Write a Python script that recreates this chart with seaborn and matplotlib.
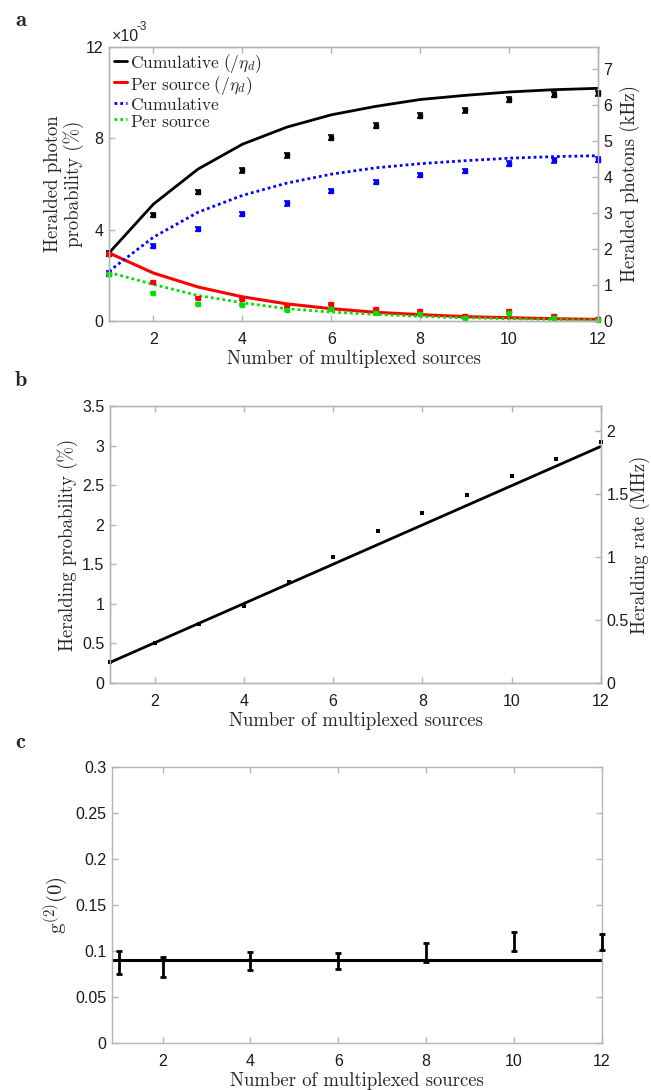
import numpy as np
import pandas as pd
import seaborn as sns
import matplotlib.pyplot as plt
from matplotlib.ticker import MultipleLocator, FuncFormatter

# ---- data ----
n_src = [1, 2, 3, 4, 5, 6, 7, 8, 9, 10, 11, 12]

# panel a, left axis in units of 1e-3 %
cum_eta_fit = [2.98, 5.12, 6.65, 7.74, 8.49, 9.03, 9.40, 9.70, 9.88, 10.03, 10.13, 10.19]
cum_eta_meas = [2.95, 4.64, 5.65, 6.60, 7.26, 8.03, 8.55, 9.00, 9.23, 9.70, 9.91, 9.97]
per_eta_fit = [2.98, 2.10, 1.49, 1.06, 0.75, 0.54, 0.38, 0.28, 0.19, 0.145, 0.10, 0.07]
per_eta_meas = [2.95, 1.71, 0.99, 0.96, 0.65, 0.75, 0.51, 0.42, 0.22, 0.44, 0.22, 0.07]
cum_fit = [2.18, 3.67, 4.76, 5.50, 6.04, 6.43, 6.71, 6.89, 7.02, 7.13, 7.20, 7.24]
cum_meas = [2.08, 3.29, 4.02, 4.69, 5.15, 5.70, 6.08, 6.39, 6.56, 6.89, 7.04, 7.07]
per_fit = [2.13, 1.60, 1.12, 0.80, 0.54, 0.39, 0.29, 0.20, 0.145, 0.10, 0.07, 0.04]
per_meas = [2.06, 1.23, 0.73, 0.69, 0.48, 0.54, 0.36, 0.29, 0.145, 0.33, 0.145, 0.04]
err_cum = 0.1
err_per = 0.04

# panel b
herald_meas = [0.266, 0.50, 0.74, 0.97, 1.28, 1.59, 1.92, 2.15, 2.38, 2.61, 2.83, 3.05]
herald_fit_x = [1, 12]
herald_fit_y = [0.26, 2.99]

# panel c
g2_n = [1, 2, 4, 6, 8, 10, 12]
g2_val = [0.088, 0.083, 0.089, 0.089, 0.0985, 0.1105, 0.110]
g2_err = [0.0125, 0.011, 0.010, 0.009, 0.010, 0.010, 0.009]
g2_fit_x = [0.85, 12]
g2_fit_y = [0.09, 0.09]

sns.set_style('ticks')
plt.rcParams['font.family'] = ['Liberation Sans', 'DejaVu Sans']
plt.rcParams['mathtext.fontset'] = 'cm'

SPINE = '#b4b4b4'
TICKFS = 11.5
LABFS = 13.5
serif = 'cmr10'
GREEN = '#00e000'

fig = plt.figure(figsize=(6.51, 10.9), dpi=100)
W, H = 651, 1090


def box(l, t, r, b):
    return [l / W, 1 - b / H, (r - l) / W, (b - t) / H]


gfmt = FuncFormatter(lambda v, p: '{:g}'.format(round(v, 6)))


def style(ax, right=True):
    for s in ax.spines.values():
        s.set_color(SPINE)
        s.set_linewidth(1)
    ax.tick_params(direction='in', length=4, width=1, color=SPINE,
                   labelsize=TICKFS, labelcolor='#1a1a1a', top=True, right=right, pad=4)
    ax.tick_params(axis='x', pad=8)
    ax.xaxis.set_major_locator(MultipleLocator(2))
    ax.yaxis.set_major_formatter(gfmt)


# ---------------- panel a ----------------
ax_a = fig.add_axes(box(109, 47, 598, 321))
dots = (0, (1, 1.1))
sns.lineplot(x=n_src, y=cum_eta_fit, ax=ax_a, color='black', lw=2,
             label=r'$\mathrm{Cumulative\ (/}\eta_d\mathrm{)}$')
sns.lineplot(x=n_src, y=per_eta_fit, ax=ax_a, color='red', lw=2.2,
             label=r'$\mathrm{Per\ source\ (/}\eta_d\mathrm{)}$')
sns.lineplot(x=n_src, y=cum_fit, ax=ax_a, color='blue', lw=2, linestyle=dots,
             label=r'$\mathrm{Cumulative}$')
sns.lineplot(x=n_src, y=per_fit, ax=ax_a, color=GREEN, lw=2, linestyle=dots,
             label=r'$\mathrm{Per\ source}$')
for yv, c, e in [(cum_eta_meas, 'black', err_cum), (cum_meas, 'blue', err_cum),
                 (per_eta_meas, 'red', err_per), (per_meas, GREEN, err_per)]:
    ax_a.errorbar(n_src, yv, yerr=e, fmt='s', ms=2.5, color=c, ecolor=c,
                  elinewidth=1.5, capsize=2, capthick=1.2, zorder=5, clip_on=False)
style(ax_a, right=False)
ax_a.set_xlim(1, 12)
ax_a.set_ylim(0, 12)
ax_a.yaxis.set_major_locator(MultipleLocator(4))
ax_a.set_ylabel('Heralded photon\nprobability (%)', family=serif, fontsize=LABFS, linespacing=1.05)
ax_a.yaxis.set_label_coords(-0.052, 0.5)
ax_a.set_xlabel('Number of multiplexed sources', family=serif, fontsize=LABFS, labelpad=2)
ax_a.text(0.005, 1.012, '\u00d710', transform=ax_a.transAxes, fontsize=TICKFS, ha='left', va='bottom')
ax_a.text(0.057, 1.05, '-3', transform=ax_a.transAxes, fontsize=8.5, ha='left', va='bottom')
leg = ax_a.legend(loc='upper left', frameon=False, handlelength=0.75, handletextpad=0.15,
                  handleheight=1.2, labelspacing=-0.08, borderaxespad=0.1, borderpad=0.2,
                  fontsize=12.5)
ax_a2 = ax_a.twinx()
style(ax_a2)
ax_a2.tick_params(left=False, top=False)
ax_a2.set_ylim(0, 7.6)
ax_a2.yaxis.set_major_locator(MultipleLocator(1))
ax_a2.set_ylabel('Heralded photons (kHz)', family=serif, fontsize=LABFS)
ax_a2.yaxis.set_label_coords(1.045, 0.5)

# ---------------- panel b ----------------
ax_b = fig.add_axes(box(110, 406, 601, 683))
sns.lineplot(x=herald_fit_x, y=herald_fit_y, ax=ax_b, color='black', lw=2)
sns.scatterplot(x=n_src, y=herald_meas, ax=ax_b, color='black', marker='s', s=7,
                linewidth=0, zorder=5, clip_on=False)
style(ax_b, right=False)
ax_b.set_xlim(1, 12)
ax_b.set_ylim(0, 3.5)
ax_b.yaxis.set_major_locator(MultipleLocator(0.5))
ax_b.set_ylabel('Heralding probability (%)', family=serif, fontsize=LABFS)
ax_b.yaxis.set_label_coords(-0.065, 0.5)
ax_b.set_xlabel('Number of multiplexed sources', family=serif, fontsize=LABFS, labelpad=2)
ax_b2 = ax_b.twinx()
style(ax_b2)
ax_b2.tick_params(left=False, top=False)
ax_b2.set_ylim(0, 2.2)
ax_b2.yaxis.set_major_locator(MultipleLocator(0.5))
ax_b2.set_ylabel('Heralding rate (MHz)', family=serif, fontsize=LABFS)
ax_b2.yaxis.set_label_coords(1.058, 0.5)

# ---------------- panel c ----------------
ax_c = fig.add_axes(box(112, 767, 602, 1043))
sns.lineplot(x=g2_fit_x, y=g2_fit_y, ax=ax_c, color='black', lw=2.2)
ax_c.errorbar(g2_n, g2_val, yerr=g2_err, fmt='none', ecolor='black', elinewidth=2,
              capsize=2, capthick=2, zorder=5, clip_on=False)
style(ax_c)
ax_c.set_xlim(0.85, 12)
ax_c.set_ylim(0, 0.3)
ax_c.yaxis.set_major_locator(MultipleLocator(0.05))
ax_c.set_ylabel(r'$\mathrm{g}^{(2)}(0)$', fontsize=15)
ax_c.yaxis.set_label_coords(-0.085, 0.5)
ax_c.set_xlabel('Number of multiplexed sources', family=serif, fontsize=LABFS, labelpad=2)

for lab, y in [('a', 20), ('b', 380), ('c', 742)]:
    fig.text(15 / W, 1 - y / H, lab, family='cmb10', fontsize=16, ha='left', va='center')

fig.savefig('out.png', dpi=100)
